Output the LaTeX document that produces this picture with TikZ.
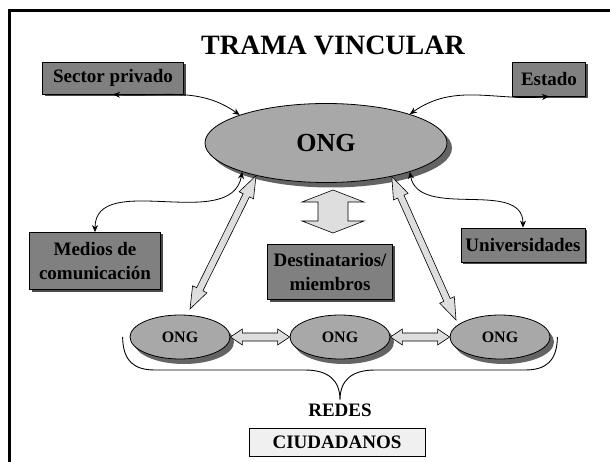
\documentclass[tikz,border=0pt]{standalone}
\usepackage{fontspec}
\setmainfont{Liberation Serif}
\usetikzlibrary{shapes.geometric,arrows.meta,calc,shadows}
\definecolor{ellfill}{RGB}{168,168,168}
\definecolor{boxfill}{RGB}{128,128,128}
\definecolor{shadowc}{RGB}{100,100,100}
\definecolor{arrfill}{RGB}{222,222,222}
\definecolor{ciufill}{RGB}{240,240,240}
\newcommand{\blkarrow}[5]{%
  \draw[blockarr] let \p1=(#1), \p2=(#2), \n1={atan2(\y2-\y1,\x2-\x1)}, \n2={veclen(\x2-\x1,\y2-\y1)} in
   [shift={(\p1)}, rotate=\n1]
   (0pt,0pt) -- (#5pt,#4pt) -- (#5pt,#3pt) -- (\n2-#5pt,#3pt) -- (\n2-#5pt,#4pt) -- (\n2,0pt)
   -- (\n2-#5pt,-#4pt) -- (\n2-#5pt,-#3pt) -- (#5pt,-#3pt) -- (#5pt,-#4pt) -- cycle;}
\begin{document}
\begin{tikzpicture}[x=1pt,y=-1pt,
  txt/.style={font=\fontsize{19}{24}\selectfont\bfseries, align=center},
  graybox/.style={txt, draw=black, line width=0.8pt, fill=boxfill, inner sep=0pt,
    drop shadow={shadow xshift=2pt, shadow yshift=-2pt, fill=black!70, opacity=1}},
  bigell/.style={ellipse, draw=black, line width=0.8pt, fill=ellfill, minimum width=242pt, minimum height=79pt,
    inner sep=0pt, font=\fontsize{26}{30}\selectfont\bfseries,
    drop shadow={shadow xshift=5pt, shadow yshift=-5pt, fill=shadowc, opacity=1}},
  smallell/.style={ellipse, draw=black, line width=0.8pt, fill=ellfill, minimum width=100pt, minimum height=44pt,
    inner sep=0pt, font=\fontsize{16}{18}\selectfont\bfseries,
    drop shadow={shadow xshift=4pt, shadow yshift=-5pt, fill=shadowc, opacity=1}},
  conn/.style={line width=0.8pt, {Stealth[length=7pt,width=6pt]}-{Stealth[length=7pt,width=6pt]}},
  blockarr/.style={draw=black, line width=0.6pt, fill=arrfill, line join=miter},
  bracestyle/.style={draw=black, line width=0.9pt}
]
\useasboundingbox (0,0) rectangle (610,462);
\fill[white] (0,0) rectangle (610,462);
\draw[line width=3pt] (9,463) -- (9,11) -- (611,11);

\node[font=\fontsize{28}{32}\selectfont\bfseries] (title) at (333,45) {TRAMA VINCULAR};

\node[graybox, minimum width=141pt, minimum height=32pt] (sp) at (113,78) {Sector privado};
\node[graybox, minimum width=73pt, minimum height=34pt] (es) at (549,79) {Estado};
\node[bigell] (main) at (326,143) {ONG};
\node[graybox, minimum width=131pt, minimum height=57pt] (med) at (95,261) {Medios de\\comunicación};
\node[graybox, minimum width=125pt, minimum height=55pt] (dest) at (330,272) {Destinatarios/\\miembros};
\node[graybox, minimum width=124pt, minimum height=34pt] (uni) at (523,245) {Universidades};

\node[smallell] (o1) at (180,337) {ONG};
\node[smallell] (o2) at (340,337) {ONG};
\node[smallell] (o3) at (500,337) {ONG};

\node[txt] (redes) at (340,410) {REDES};
\node[txt, draw=black, line width=0.8pt, fill=ciufill, minimum width=176pt, minimum height=28pt, inner sep=0pt] (ciu) at (337,442) {CIUDADANOS};

% thin curved connectors
\draw[conn] (sp.south) to[out=-3, in=145] (main.162);
\draw[conn] (es.south) to[out=185, in=35] (main.19);
\draw[conn] (med.north) to[out=90, in=-100] (main.199);
\draw[conn] (uni.north) to[out=90, in=-80] (main.341);

% block arrows
\coordinate (lt) at ($(o1.center)+(10,-28)$);
\coordinate (rt) at ($(o3.center)+(-44,-17)$);
\blkarrow{main.205}{lt}{3.5}{8}{22}
\blkarrow{main.333}{rt}{3.5}{8}{22}
\blkarrow{o1.east}{o2.west}{4}{8}{12}
\blkarrow{o2.east}{o3.west}{4}{8}{12}
\coordinate (vtop) at (333,190);
\coordinate (vbot) at (333,233);
\blkarrow{vtop}{vbot}{15}{31}{12}

% brace
\draw[bracestyle] ($(o1.west)+(-7,0)$) .. controls (123,362) and (135,370) .. (155,370) -- (305,370)
  .. controls (328,370) and (340,380) .. (340,400)
  .. controls (340,380) and (352,370) .. (375,370) -- (525,370)
  .. controls (545,370) and (557,362) .. ($(o3.east)+(7,0)$);
\end{tikzpicture}
\end{document}
